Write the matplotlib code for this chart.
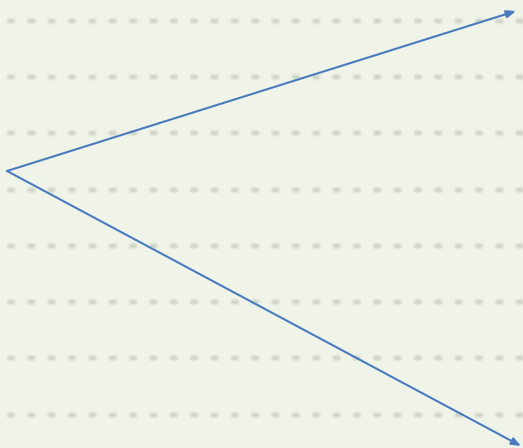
import matplotlib
matplotlib.use("Agg")
import matplotlib.pyplot as plt

plt.rcParams['lines.scale_dashes'] = False

# Data (pixel-like coordinate system: x right, y down)
origin = (7, 171)
arrow_ends_x = [516, 521]
arrow_ends_y = [11, 446]
grid_y = [21, 77, 133, 190, 246, 302, 358, 415]

bg = "#f0f3e7"
arrow_color = "#4a7bbf"

fig = plt.figure(figsize=(5.23, 4.48), dpi=100)
fig.patch.set_facecolor(bg)
ax = fig.add_axes([0, 0, 1, 1])
ax.set_facecolor(bg)
ax.set_xlim(0, 523)
ax.set_ylim(448, 0)
ax.axis("off")

px = 0.72  # points per pixel
P = 20.35
L = 3.0
off = P - 11 + L / 2
for y in grid_y:
    for lw, a in [(8, 0.07), (6, 0.10), (4, 0.14), (2.5, 0.18)]:
        ln, = ax.plot([0, 523], [y, y], color="#a9ad9f", lw=lw * px, alpha=a,
                      solid_capstyle="round", dash_capstyle="round")
        ln.set_linestyle((off * px, (L * px, (P - L) * px)))

for xe, ye in zip(arrow_ends_x, arrow_ends_y):
    ax.annotate("", xy=(xe, ye), xytext=origin,
                arrowprops=dict(arrowstyle="-|>,head_length=0.55,head_width=0.22",
                                color=arrow_color, lw=1.5,
                                shrinkA=0, shrinkB=0))

fig.savefig("out.png", dpi=100, facecolor=bg)
